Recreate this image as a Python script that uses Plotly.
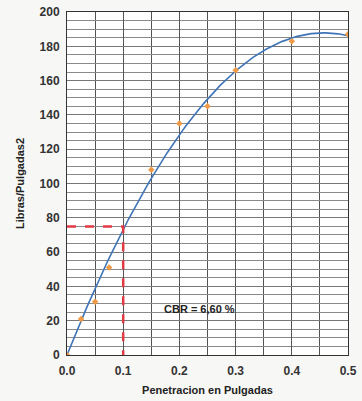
import numpy as np
import plotly.graph_objects as go

# Penetration test readings
penetracion = [0.0, 0.025, 0.05, 0.075, 0.15, 0.2, 0.25, 0.3, 0.4, 0.5]
carga = [0, 21, 31, 51, 108, 135, 145, 166, 183, 187]

# CBR reference load at 0.1"
x_ref = 0.1
y_ref = 75
cbr_text = "CBR = 6,60 %"

# Second-order trendline through the origin (least squares on the readings)
px = np.array(penetracion)
A = np.column_stack([px, px ** 2])
(a1, a2), *_ = np.linalg.lstsq(A, np.array(carga, dtype=float), rcond=None)
xs = np.linspace(0, 0.5, 200)
ys = a1 * xs + a2 * xs ** 2

fig = go.Figure()
fig.add_trace(go.Scatter(x=xs, y=ys, mode="lines",
                         line=dict(color="#3f74b6", width=1.6),
                         hoverinfo="skip", showlegend=False))
fig.add_trace(go.Scatter(x=penetracion, y=carga, mode="markers",
                         marker=dict(color="#f19a45", size=5, symbol="diamond"),
                         showlegend=False))
fig.add_trace(go.Scatter(x=[0, x_ref, x_ref], y=[y_ref, y_ref, 0], mode="lines",
                         line=dict(color="#e23a44", width=2.5, dash="dash"),
                         showlegend=False))

fig.add_annotation(x=0.236, y=27, text="<b>" + cbr_text + "</b>", showarrow=False,
                   font=dict(family="Liberation Sans, Arial", size=11, color="#222"))

axis_font = dict(family="Liberation Sans, Arial", size=12, color="#333", weight="bold")
title_font = dict(family="Liberation Sans, Arial", size=11, color="#222", weight="bold")
fig.update_xaxes(range=[0, 0.5], dtick=0.1, tickformat=".1f", automargin=False,
                 showgrid=True, gridcolor="#555", gridwidth=1,
                 minor=dict(dtick=0.05, showgrid=True, gridcolor="#555", gridwidth=1),
                 showline=True, linecolor="#333", linewidth=1, mirror=True,
                 zeroline=False, ticks="", tickfont=axis_font, ticklabelstandoff=5,
                 title=dict(text="Penetracion en Pulgadas", font=title_font, standoff=8))
fig.update_yaxes(range=[0, 200], dtick=20, automargin=False,
                 showgrid=True, gridcolor="#777", gridwidth=1,
                 minor=dict(dtick=5, showgrid=True, gridcolor="#8a8a8a", gridwidth=1),
                 showline=True, linecolor="#333", linewidth=1, mirror=True,
                 zeroline=False, ticks="", tickfont=axis_font, ticklabelstandoff=4,
                 title=dict(text="Libras/Pulgadas2", font=title_font, standoff=12))

fig.update_layout(width=362, height=401,
                  margin=dict(l=67, r=14, t=12, b=46),
                  paper_bgcolor="#f7f7f5", plot_bgcolor="#ffffff",
                  showlegend=False)

fig.write_html("out.html")
